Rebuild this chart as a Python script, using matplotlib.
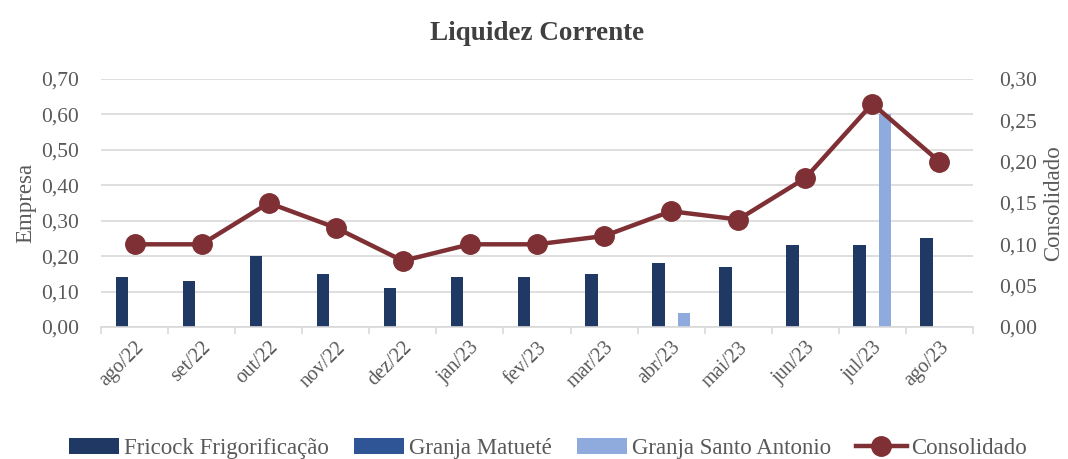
import matplotlib.pyplot as plt
import numpy as np

meses = ['ago/22', 'set/22', 'out/22', 'nov/22', 'dez/22', 'jan/23', 'fev/23',
         'mar/23', 'abr/23', 'mai/23', 'jun/23', 'jul/23', 'ago/23']
fricock = [0.14, 0.13, 0.20, 0.15, 0.11, 0.14, 0.14, 0.15, 0.18, 0.17, 0.23, 0.23, 0.25]
matuete = [0, 0, 0, 0, 0, 0, 0, 0, 0, 0, 0, 0, 0]
santo_antonio = [0, 0, 0, 0, 0, 0, 0, 0, 0.04, 0, 0, 0.60, 0]
consolidado = [0.10, 0.10, 0.15, 0.12, 0.08, 0.10, 0.10, 0.11, 0.14, 0.13, 0.18, 0.27, 0.20]

plt.rcParams['font.family'] = ['Liberation Serif', 'DejaVu Serif']
cinza = '#595959'

fig = plt.figure(figsize=(10.68, 4.59), dpi=100)
ax = fig.add_axes([0.0946, 0.2876, 0.8164, 0.5404])
ax2 = ax.twinx()

x = np.arange(len(meses))
w = 0.185
ax.bar(x - 0.19, fricock, w, color='#1F3864', label='Fricock Frigorificação', zorder=2)
ax.bar(x, matuete, w, color='#2F5597', label='Granja Matueté', zorder=2)
ax.bar(x + 0.19, santo_antonio, w, color='#8FAADC', label='Granja Santo Antonio', zorder=2)
ax2.plot(x, consolidado, color='#7F3034', lw=3.2, marker='o', ms=14,
         label='Consolidado', zorder=3)

ax.set_xlim(-0.5, len(meses) - 0.5)
ax.set_ylim(0, 0.70)
ax2.set_ylim(0, 0.30)
ax.set_yticks(np.arange(0, 0.71, 0.1))
ax2.set_yticks(np.arange(0, 0.31, 0.05))
ax.set_yticklabels([f'{v:.2f}'.replace('.', ',') for v in np.arange(0, 0.71, 0.1)])
ax2.set_yticklabels([f'{v:.2f}'.replace('.', ',') for v in np.arange(0, 0.31, 0.05)])
ax.grid(axis='y', color='#D9D9D9', lw=1.2, zorder=0)
ax.set_axisbelow(True)

ax.set_xticks(x)
ax.set_xticklabels(meses, rotation=45, ha='right', rotation_mode='anchor')
ax.set_xticks(np.arange(-0.5, len(meses)), minor=True)
ax.tick_params(axis='x', which='major', length=0, pad=8, labelsize=14.5, labelcolor=cinza)
ax.tick_params(axis='x', which='minor', length=5, color='#D9D9D9', width=1.2)
ax.tick_params(axis='y', length=0, labelsize=15.5, labelcolor=cinza, pad=16)
ax2.tick_params(axis='y', length=0, labelsize=15.5, labelcolor=cinza, pad=19)

for a in (ax, ax2):
    for s in a.spines.values():
        s.set_visible(False)
ax.spines['bottom'].set_visible(True)
ax.spines['bottom'].set_color('#D9D9D9')
ax.spines['bottom'].set_linewidth(1.2)

ax.set_ylabel('Empresa', fontsize=16.5, color=cinza, labelpad=3)
ax2.set_ylabel('Consolidado', fontsize=16.5, color=cinza, labelpad=4)
ax.set_title('Liquidez Corrente', fontsize=19.5, fontweight='bold', color='#404040', pad=28)

h1, l1 = ax.get_legend_handles_labels()
h2, l2 = ax2.get_legend_handles_labels()
fig.legend(h1 + h2, l1 + l2, loc='lower center', bbox_to_anchor=(0.513, -0.045), ncol=4,
           frameon=False, fontsize=16.5, labelcolor=cinza, handlelength=2.2,
           handletextpad=0.2, columnspacing=1.1)

fig.savefig('out.png', dpi=100)
